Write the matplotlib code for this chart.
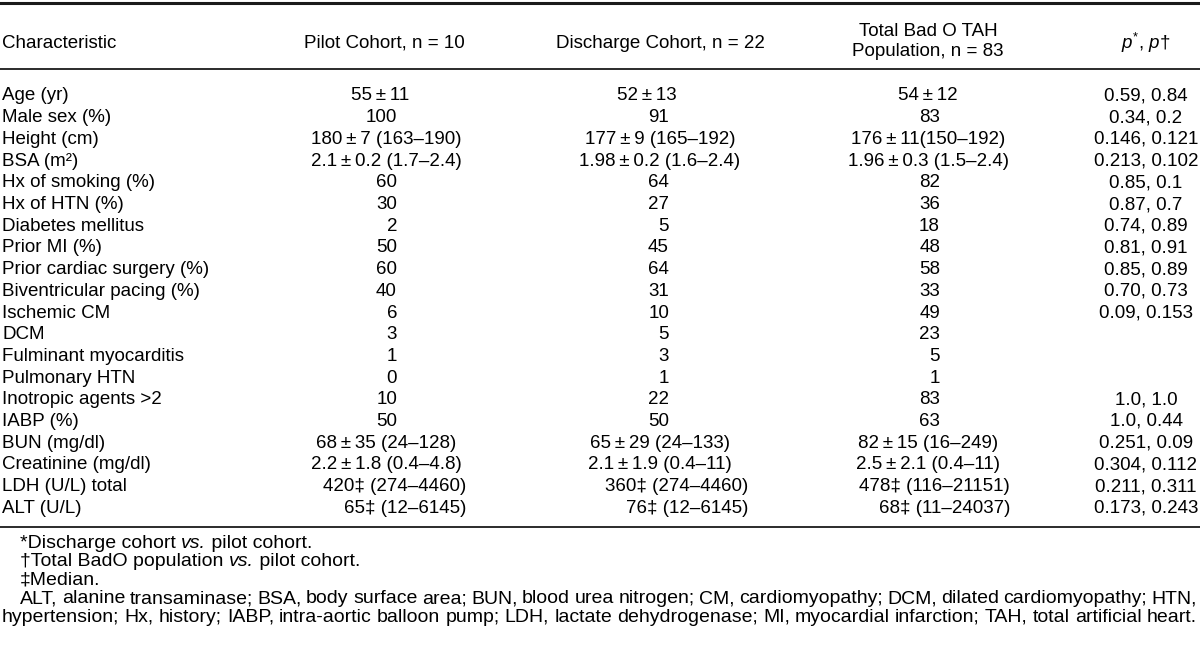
import matplotlib
matplotlib.use("Agg")
import matplotlib.pyplot as plt

plt.rcParams["font.family"] = ["Liberation Sans", "DejaVu Sans"]
plt.rcParams["mathtext.fontset"] = "custom"
plt.rcParams["mathtext.rm"] = "Liberation Sans"
plt.rcParams["mathtext.it"] = "Liberation Sans:italic"

T = "\u2009"  # espacio fino alrededor de ±

# Datos de la tabla
characteristics = ["Age (yr)", "Male sex (%)", "Height (cm)", "BSA (m²)", "Hx of smoking (%)",
                   "Hx of HTN (%)", "Diabetes mellitus", "Prior MI (%)", "Prior cardiac surgery (%)",
                   "Biventricular pacing (%)", "Ischemic CM", "DCM", "Fulminant myocarditis",
                   "Pulmonary HTN", "Inotropic agents >2", "IABP (%)", "BUN (mg/dl)",
                   "Creatinine (mg/dl)", "LDH (U/L) total", "ALT (U/L)"]
pilot = ["55±11", "100", "180±7 (163–190)", "2.1±0.2 (1.7–2.4)", "60", "30", "2", "50", "60",
         "40", "6", "3", "1", "0", "10", "50", "68±35 (24–128)", "2.2±1.8 (0.4–4.8)",
         "420‡ (274–4460)", "65‡ (12–6145)"]
discharge = ["52±13", "91", "177±9 (165–192)", "1.98±0.2 (1.6–2.4)", "64", "27", "5", "45", "64",
             "31", "10", "5", "3", "1", "22", "50", "65±29 (24–133)", "2.1±1.9 (0.4–11)",
             "360‡ (274–4460)", "76‡ (12–6145)"]
total = ["54±12", "83", "176±11(150–192)", "1.96±0.3 (1.5–2.4)", "82", "36", "18", "48", "58",
         "33", "49", "23", "5", "1", "83", "63", "82±15 (16–249)", "2.5±2.1 (0.4–11)",
         "478‡ (116–21151)", "68‡ (11–24037)"]
pvals = ["0.59, 0.84", "0.34, 0.2", "0.146, 0.121", "0.213, 0.102", "0.85, 0.1", "0.87, 0.7",
         "0.74, 0.89", "0.81, 0.91", "0.85, 0.89", "0.70, 0.73", "0.09, 0.153", "", "", "",
         "1.0, 1.0", "1.0, 0.44", "0.251, 0.09", "0.304, 0.112", "0.211, 0.311", "0.173, 0.243"]
headers = ["Characteristic", "Pilot Cohort, n = 10", "Discharge Cohort, n = 22",
           "Total Bad O TAH", "Population, n = 83", r"$p^{*}$, $p$†"]
# notas: segmentos (texto, cursiva)
footnotes = [[("*Discharge cohort ", False), ("vs.", True), (" pilot cohort.", False)],
             [("†Total BadO population ", False), ("vs.", True), (" pilot cohort.", False)],
             [("‡Median.", False)]]
abbrev = ["ALT, alanine transaminase; BSA, body surface area; BUN, blood urea nitrogen; "
          "CM, cardiomyopathy; DCM, dilated cardiomyopathy; HTN,",
          "hypertension; Hx, history; IABP, intra-aortic balloon pump; LDH, lactate dehydrogenase; "
          "MI, myocardial infarction; TAH, total artificial heart."]

fs = 13.5
fs_note = 14
fig = plt.figure(figsize=(12, 6.52), dpi=100)
ax = fig.add_axes([0, 0, 1, 1])
ax.set_xlim(0, 1200)
ax.set_ylim(652, 0)
ax.axis("off")
renderer = fig.canvas.get_renderer()

# anclas de columna: (derecha enteros, derecha medianas, centro rangos, centro media±DE)
anchors = [(397, 466, 386, 380), (669, 748, 660, 647), (940, 1010, 928, 928)]
col_centers = [384, 660, 928, 1146]


def cell(x_set, txt, y):
    int_r, med_r, rng_c, pm_c = x_set
    txt = txt.replace("±", T + "±" + T)
    if txt.isdigit():
        ax.text(int_r, y, txt, ha="right", va="center", fontsize=fs)
    elif "‡" in txt:
        ax.text(med_r, y, txt, ha="right", va="center", fontsize=fs)
    elif "(" in txt:
        ax.text(rng_c, y, txt, ha="center", va="center", fontsize=fs)
    else:
        ax.text(pm_c, y, txt, ha="center", va="center", fontsize=fs)


# reglas horizontales
ax.axhline(3, color="#1a1a1a", lw=2.2)
ax.axhline(69, color="#1a1a1a", lw=1.3)
ax.axhline(527, color="#1a1a1a", lw=1.3)

# encabezados
ax.text(2, 43, headers[0], ha="left", va="center", fontsize=fs)
ax.text(col_centers[0], 43, headers[1], ha="center", va="center", fontsize=fs)
ax.text(col_centers[1], 43, headers[2], ha="center", va="center", fontsize=fs)
ax.text(col_centers[2], 32, headers[3], ha="center", va="center", fontsize=fs)
ax.text(col_centers[2], 52, headers[4], ha="center", va="center", fontsize=fs)
ax.text(col_centers[3], 43, headers[5], ha="center", va="center", fontsize=fs)

row0, row_h = 96, 21.7
for i, name in enumerate(characteristics):
    y = row0 + i * row_h
    ax.text(2, y, name, ha="left", va="center", fontsize=fs)
    for a, col in zip(anchors, (pilot, discharge, total)):
        cell(a, col[i], y)
    if pvals[i]:
        ax.text(col_centers[3], y, pvals[i], ha="center", va="center", fontsize=fs)

# notas al pie con "vs." en cursiva
for j, segs in enumerate(footnotes):
    y = 543 + j * 18.5
    x = 20
    for s, it in segs:
        t = ax.text(x, y, s, ha="left", va="center", fontsize=fs_note,
                    style="italic" if it else "normal")
        x += t.get_window_extent(renderer).width

# texto justificado para la lista de abreviaturas
for j, (line, x0) in enumerate(zip(abbrev, (20, 2))):
    y = 543 + (3 + j) * 18.5
    words = [ax.text(0, y, w, ha="left", va="center", fontsize=fs_note) for w in line.split(" ")]
    widths = [w.get_window_extent(renderer).width for w in words]
    gap = (1197 - x0 - sum(widths)) / (len(words) - 1)
    x = x0
    for w, wd in zip(words, widths):
        w.set_x(x)
        x += wd + gap

fig.savefig("out.png", dpi=100)
